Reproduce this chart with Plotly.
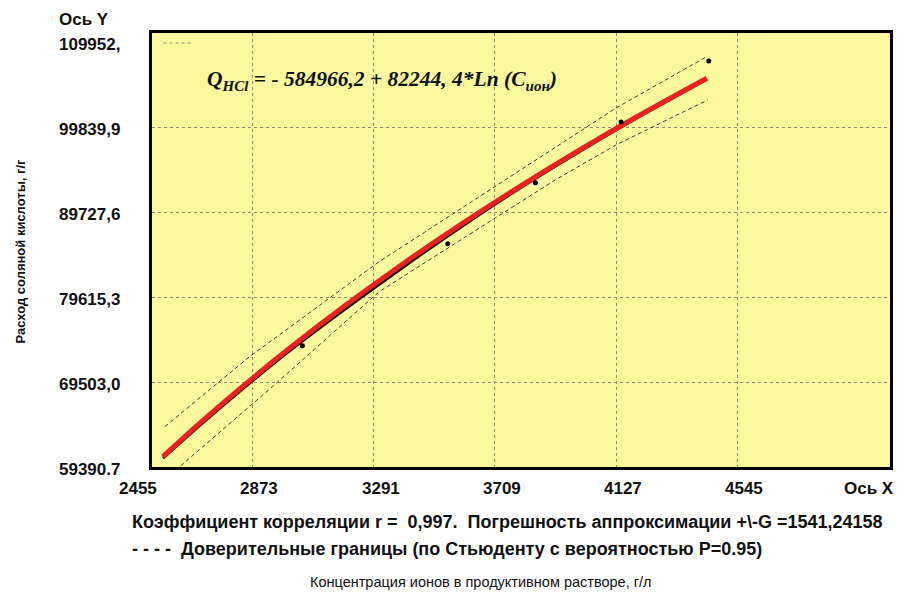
import plotly.graph_objects as go

# ---- data ----
x_ticks = [2455, 2873, 3291, 3709, 4127, 4545]
x_tick_text = ["2455", "2873", "3291", "3709", "4127", "4545"]
y_ticks = [59390.7, 69503.0, 79615.3, 89727.6, 99839.9, 109952]
y_tick_text = ["59390.7", "69503,0", "79615,3", "89727,6", "99839,9", "109952,"]

# regression curve (red)
fit_c = [2565, 2700, 2850, 3000, 3200, 3400, 3600, 3800, 4000, 4200, 4440]
fit_q = [60628, 64848, 69294, 73513, 78821, 83807, 88508, 92955, 97173, 101186, 105756]
# underlying black curve
raw_q = [60450, 64600, 69000, 73200, 78400, 83400, 88200, 92750, 97000, 101050, 105650]

# experimental points
pts_c = [3045.5, 3546.8, 3848.9, 4144.2, 4446.3]
pts_q = [73861, 86009, 93275, 100540, 107805]

# confidence limits
up_c = [2571.7, 2863.6, 3309.9, 3745.9, 4127.0, 4442.9]
up_q = [64214, 72551, 83866, 93632, 102207, 108399]
lo_c = [2571.7, 2942.5, 3309.9, 3917.6, 4127.0, 4442.9]
lo_q = [57902, 68978, 80293, 93632, 97801, 103161]

X_RANGE = [2527.1, 5071.2]
Y_RANGE = [59390.7, 111143]

# the page body has an 8px margin: the figure is drawn 8px right/down
OFF = 8
W, H = 901 - OFF, 597 - OFF
ML, MR, MT, MB = 152 - OFF, 8, 33 - OFF, 130
PW, PH = W - ML - MR, H - MT - MB


def px_x(px):
    return (px - OFF - ML) / PW


def px_y(py):
    return (H - MB - (py - OFF)) / PH


def data_x_paper(v):
    return (v - X_RANGE[0]) / (X_RANGE[1] - X_RANGE[0])


fig = go.Figure()

fig.add_trace(go.Scatter(x=up_c, y=up_q, mode="lines",
                         line=dict(color="#3a3a3a", width=1, dash="4px,3px"),
                         hoverinfo="skip", showlegend=False))
fig.add_trace(go.Scatter(x=lo_c, y=lo_q, mode="lines",
                         line=dict(color="#3a3a3a", width=1, dash="4px,3px"),
                         hoverinfo="skip", showlegend=False))
fig.add_trace(go.Scatter(x=fit_c, y=raw_q, mode="lines",
                         line=dict(color="#111111", width=3, shape="spline"),
                         showlegend=False))
fig.add_trace(go.Scatter(x=fit_c, y=fit_q, mode="lines",
                         line=dict(color="#e8221e", width=5, shape="spline"),
                         showlegend=False))
fig.add_trace(go.Scatter(x=pts_c, y=pts_q, mode="markers",
                         marker=dict(color="black", size=5),
                         showlegend=False))

tick_font = dict(family="Liberation Sans, Arial, sans-serif", size=17, color="#111")
annotations = []
for v, t in zip(x_ticks, x_tick_text):
    annotations.append(dict(x=data_x_paper(v), xref="paper", y=px_y(489), yref="paper",
                            text="<b>%s</b>" % t,
                            showarrow=False, xanchor="center", yanchor="middle",
                            xshift=7, font=tick_font))
for v, t in zip(y_ticks, y_tick_text):
    annotations.append(dict(x=px_x(57), xref="paper", y=v, yref="y", text="<b>%s</b>" % t,
                            showarrow=False, xanchor="left", yanchor="middle",
                            yshift=-2, font=tick_font))

annotations += [
    dict(x=px_x(57), xref="paper", y=px_y(19), yref="paper", text="<b>Ось Y</b>",
         showarrow=False, xanchor="left", yanchor="middle", font=tick_font),
    dict(x=px_x(899), xref="paper", y=px_y(489), yref="paper", text="<b>Ось X</b>",
         showarrow=False, xanchor="right", yanchor="middle", font=tick_font),
    dict(x=px_x(205), xref="paper", y=px_y(80), yref="paper",
         text="<b><i>Q<sub>HCl</sub> = - 584966,2 + 82244, 4*Ln (C<sub>ион</sub>)</i></b>",
         showarrow=False, xanchor="left", yanchor="middle",
         font=dict(family="Liberation Serif, Times New Roman, serif", size=21.5, color="#111")),
    dict(x=px_x(130), xref="paper", y=px_y(522), yref="paper",
         text="<b>Коэффициент корреляции r =\u00a0 0,997.\u00a0 Погрешность аппроксимации +\\-G =1541,24158</b>",
         showarrow=False, xanchor="left", yanchor="middle",
         font=dict(family="Liberation Sans, Arial, sans-serif", size=18, color="#111")),
    dict(x=px_x(130), xref="paper", y=px_y(549), yref="paper",
         text="<b>- - - -\u00a0 Доверительные границы (по Стьюденту с вероятностью P=0.95)</b>",
         showarrow=False, xanchor="left", yanchor="middle",
         font=dict(family="Liberation Sans, Arial, sans-serif", size=18, color="#111")),
    dict(x=px_x(482), xref="paper", y=px_y(582), yref="paper",
         text="Концентрация ионов в продуктивном растворе, г/л",
         showarrow=False, xanchor="center", yanchor="middle",
         font=dict(family="Liberation Sans, Arial, sans-serif", size=14.5, color="#111")),
    dict(x=px_x(20), xref="paper", y=px_y(251), yref="paper",
         text="<b>Расход соляной кислоты, г/г</b>", textangle=-90,
         showarrow=False, xanchor="center", yanchor="middle",
         font=dict(family="Liberation Sans, Arial, sans-serif", size=13, color="#111")),
]

shapes = [
    dict(type="line", xref="x", yref="y", x0=2567, x1=2670, y0=109952, y1=109952,
         line=dict(color="#8a8a7a", width=1, dash="dot")),
]

fig.update_layout(
    width=W, height=H,
    margin=dict(l=ML, r=MR, t=MT, b=MB),
    paper_bgcolor="white",
    plot_bgcolor="#fbf99e",
    annotations=annotations,
    shapes=shapes,
    xaxis=dict(range=X_RANGE, tickvals=x_ticks[1:], showticklabels=False,
               showgrid=True, gridcolor="#8a8a7a", gridwidth=1, griddash="dot",
               zeroline=False, showline=True, linecolor="black", linewidth=3, mirror=True,
               ticks=""),
    yaxis=dict(range=Y_RANGE, tickvals=y_ticks[1:5], showticklabels=False,
               showgrid=True, gridcolor="#8a8a7a", gridwidth=1, griddash="dot",
               zeroline=False, showline=True, linecolor="black", linewidth=3, mirror=True,
               ticks=""),
)

fig.write_html("out.html")
